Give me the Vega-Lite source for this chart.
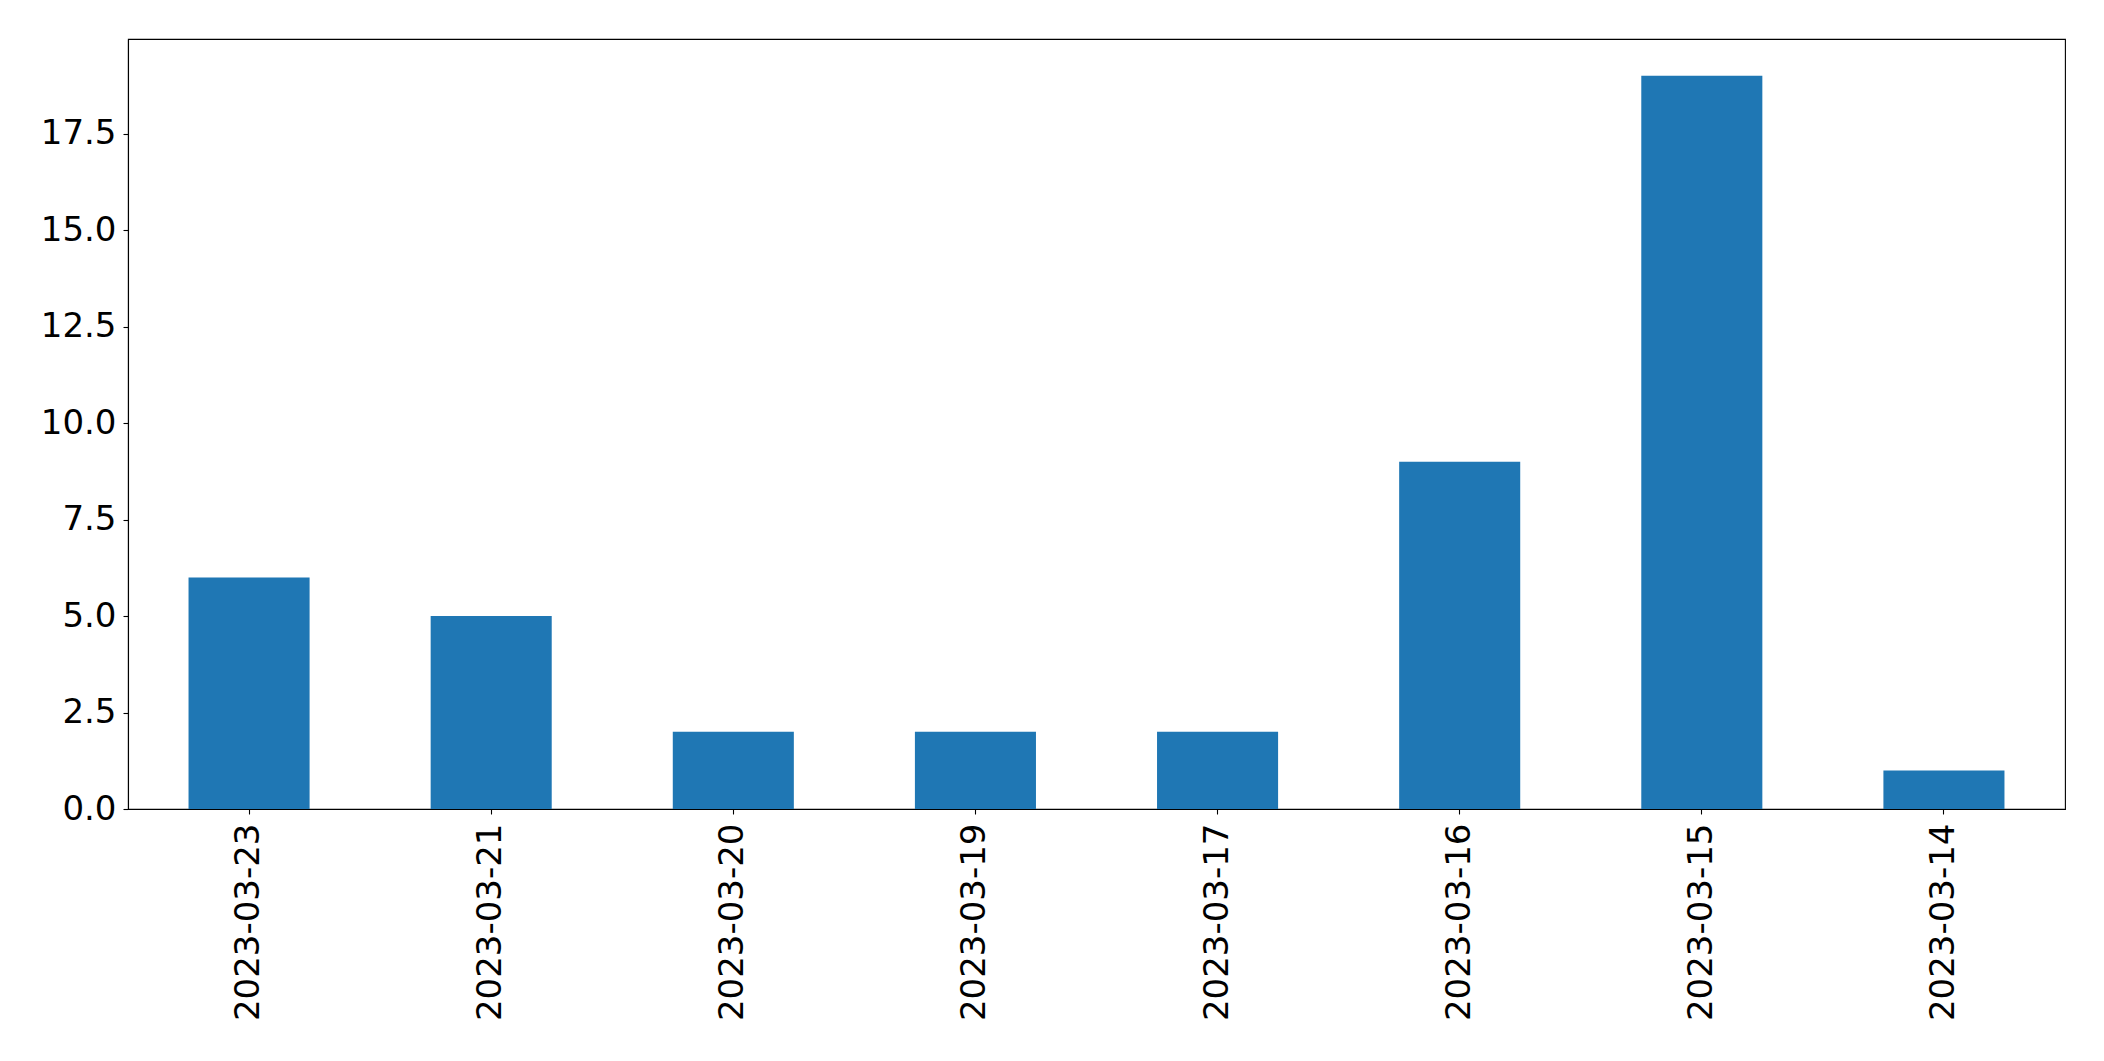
{
  "$schema": "https://vega.github.io/schema/vega-lite/v6.json",
  "autosize": {"type": "none"},
  "padding": {"left": 128, "top": 39, "right": 39, "bottom": 252},
  "width": 1937,
  "height": 770,
  "background": "white",
  "config": {
    "font": "DejaVu Sans",
    "view": {"stroke": "black", "strokeWidth": 1.1},
    "axis": {"grid": false, "domainColor": "black", "tickColor": "black", "labelColor": "black", "labelFont": "DejaVu Sans", "labelFontSize": 34, "labelLimit": 0, "tickSize": 5, "tickWidth": 1.1, "domainWidth": 1.1, "title": null}
  },
  "data": {"values": [
    {"date": "2023-03-23", "count": 6},
    {"date": "2023-03-21", "count": 5},
    {"date": "2023-03-20", "count": 2},
    {"date": "2023-03-19", "count": 2},
    {"date": "2023-03-17", "count": 2},
    {"date": "2023-03-16", "count": 9},
    {"date": "2023-03-15", "count": 19},
    {"date": "2023-03-14", "count": 1}
  ]},
  "mark": {"type": "bar", "color": "#1f77b4"},
  "encoding": {
    "x": {"field": "date", "type": "nominal", "sort": null,
      "scale": {"paddingInner": 0.5, "paddingOuter": 0.25},
      "axis": {"labelAngle": -90, "labelPadding": 9}},
    "y": {"field": "count", "type": "quantitative",
      "scale": {"domain": [0, 19.95], "nice": false, "zero": true},
      "axis": {"values": [0, 2.5, 5, 7.5, 10, 12.5, 15, 17.5], "format": ".1f", "labelPadding": 7}}
  }
}
